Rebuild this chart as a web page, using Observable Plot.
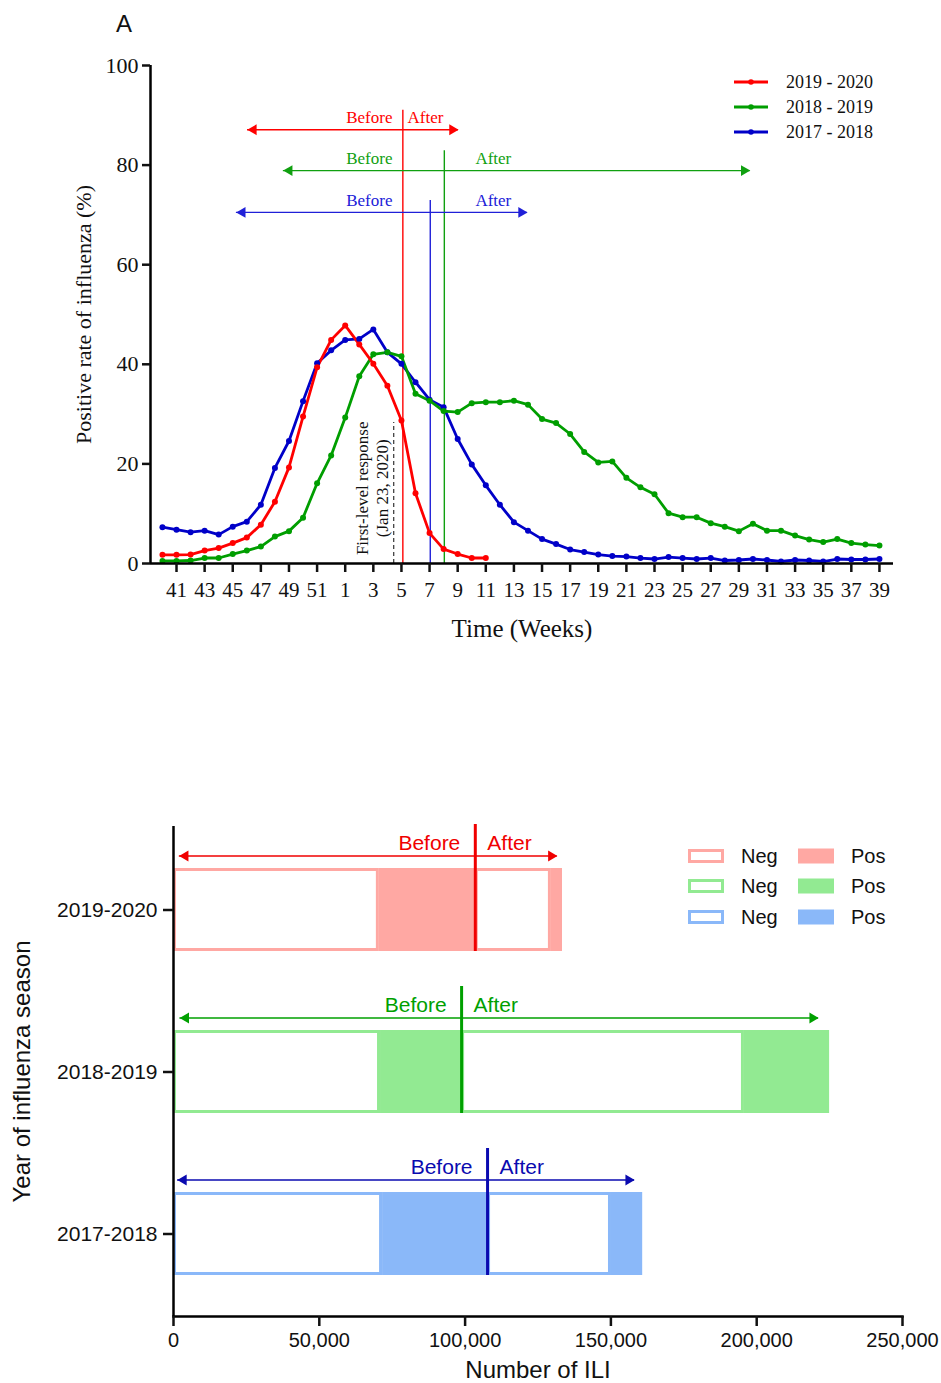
<!DOCTYPE html>
<html><head><meta charset="utf-8">
<script src="https://cdn.jsdelivr.net/npm/d3@7"></script>
<script src="https://cdn.jsdelivr.net/npm/@observablehq/plot@0.6"></script>
<style>
body{margin:0;background:#fff;}
#wrap{position:relative;width:941px;height:1383px;overflow:hidden;background:#fff;}
#top{position:absolute;left:0;top:0;}
#bottom{position:absolute;left:0;top:700px;}
.abs{position:absolute;white-space:nowrap;line-height:1;}
</style></head><body><div id="wrap"><div id="top"></div><div id="bottom"></div></div>
<script>
// ---------------- Panel A data ----------------
const weeks = [40,41,42,43,44,45,46,47,48,49,50,51,52,1,2,3,4,5,6,7,8,9,10,11,12,13,14,15,16,17,18,19,20,21,22,23,24,25,26,27,28,29,30,31,32,33,34,35,36,37,38,39];
const seriesNames = ["2019 - 2020","2018 - 2019","2017 - 2018"];
const lineColors = ["#ff0000","#009e00","#0000c8"];
const rate2019_2020 = [1.75,1.75,1.8,2.6,3.1,4.1,5.2,7.8,12.4,19.3,29.5,39.4,44.9,47.8,44.0,40.1,35.7,28.7,14.1,6.1,2.9,1.9,1.1,1.1];
const rate2018_2019 = [0.5,0.5,0.6,1.1,1.1,1.9,2.6,3.4,5.4,6.5,9.2,16.1,21.7,29.3,37.6,42.0,42.4,41.6,34.1,32.7,30.6,30.4,32.2,32.4,32.4,32.7,31.9,29.0,28.2,26.0,22.4,20.3,20.5,17.2,15.3,13.9,10.1,9.3,9.3,8.1,7.4,6.5,8.0,6.6,6.6,5.6,4.8,4.3,4.9,4.1,3.8,3.6];
const rate2017_2018 = [7.3,6.8,6.3,6.6,5.8,7.4,8.4,11.8,19.2,24.6,32.6,40.2,42.8,44.9,45.1,47.0,42.4,40.1,36.4,32.9,31.4,25.0,19.9,15.7,11.8,8.3,6.6,4.9,3.9,2.8,2.3,1.8,1.5,1.4,1.1,0.9,1.3,1.1,0.9,1.1,0.6,0.7,0.9,0.7,0.4,0.7,0.6,0.4,0.9,0.8,0.8,0.9];
// annotation positions (week index units / percent)
const cutPos = [17.1, 20.05, 19.05];
const cutTop = [91, 82.9, 72.9];
const arrowLevel = [87.1, 78.9, 70.5];
const arrowFrom = [6.05, 8.6, 5.26];
const arrowTo = [21.05, 41.8, 25.96];
const beforeEnd = [16.36, 16.36, 16.36];
const afterStart = [17.43, 22.26, 22.26];
const responseWeek = 16.45, responseTop = 28.3, responseLabelY = 15.1;
const yTicksA = [0,20,40,60,80,100];
const xDomainA = [-0.85, 52];

// ---------------- Panel B data ----------------
const seasons = ["2019-2020","2018-2019","2017-2018"];
const negBefore = [70600, 71000, 71700];
const posBefore = [32900, 27800, 36000];
const negAfter  = [26100, 97000, 42500];
const posAfter  = [3800, 29200, 10700];
const bArrowFrom = [2000, 2200, 1400];
const bArrowTo = [131600, 221200, 158100];
const fillColors = ["#ffa8a3","#92ea92","#8ab8f9"];
const markColors = ["#f00000","#00a000","#0a0ab0"];
const xTicksB = [0,50000,100000,150000,200000,250000];

const serif = '"Liberation Serif","Times New Roman",serif';
const sans = '"Liberation Sans",Arial,sans-serif';

// ---------- Panel A ----------
const allRates = [rate2019_2020, rate2018_2019, rate2017_2018];
const rows = [];
allRates.forEach((arr, k) => arr.forEach((v, i) => rows.push({k, season: seriesNames[k], i, week: weeks[i], rate: v})));
const drawOrder = [2,1,0];
const rowsOrdered = drawOrder.flatMap(k => rows.filter(r => r.k === k));
const cuts = seriesNames.map((s, k) => ({k, cut: cutPos[k], top: cutTop[k], level: arrowLevel[k], from: arrowFrom[k], to: arrowTo[k], bx: beforeEnd[k], ax: afterStart[k]}));
const annoColors = ["#ff0000","#10a010","#2020d8"];

const plotA = Plot.plot({
  width: 941, height: 700,
  marginLeft: 150, marginRight: 48, marginTop: 65, marginBottom: 137,
  style: {fontFamily: serif, fontSize: "21px", background: "transparent", overflow: "visible", color: "#111"},
  x: {domain: xDomainA},
  y: {domain: [0, 100]},
  marks: [
    Plot.ruleX(cuts, {x: "cut", y1: 0, y2: "top", stroke: d => annoColors[d.k], strokeWidth: 1.4}),
    Plot.ruleY(cuts, {y: "level", x1: "from", x2: "to", stroke: d => annoColors[d.k], strokeWidth: 1.4}),
    Plot.dot(cuts, {x: "from", y: "level", symbol: "triangle", rotate: -90, r: 4, fill: d => annoColors[d.k], dx: 6}),
    Plot.dot(cuts, {x: "to", y: "level", symbol: "triangle", rotate: 90, r: 4, fill: d => annoColors[d.k], dx: -6}),
    Plot.text(cuts, {x: "bx", y: "level", text: () => "Before", textAnchor: "end", dy: -12, fill: d => annoColors[d.k], fontSize: 17}),
    Plot.text(cuts, {x: "ax", y: "level", text: () => "After", textAnchor: "start", dy: -12, fill: d => annoColors[d.k], fontSize: 17}),
    Plot.ruleX([responseWeek], {y1: 0, y2: responseTop, stroke: "#333", strokeWidth: 1.2, strokeDasharray: "4,3"}),
    Plot.text(["First-level response\n(Jan 23, 2020)"], {x: responseWeek, y: responseLabelY, text: d => d, rotate: -90, dx: -22, lineHeight: 1.2, fontSize: 17, fill: "#111"}),
    Plot.line(rowsOrdered, {x: "i", y: "rate", z: "season", stroke: d => lineColors[d.k], strokeWidth: 2.8}),
    Plot.dot(rowsOrdered, {x: "i", y: "rate", fill: d => lineColors[d.k], r: 3}),
    Plot.ruleY([0], {stroke: "#000", strokeWidth: 2.5}),
    Plot.ruleX([xDomainA[0]], {stroke: "#000", strokeWidth: 2.5}),
    Plot.axisX({ticks: d3.range(1, 52, 2), tickFormat: i => weeks[i], tickSize: 9, tickPadding: 10, fontSize: 21, strokeWidth: 2.5, label: null}),
    Plot.axisY({ticks: yTicksA, tickSize: 8, tickPadding: 4, fontSize: 22, strokeWidth: 2.5, label: null}),
    Plot.text(["Positive rate of influenza (%)"], {frameAnchor: "left", text: d => d, rotate: -90, textAnchor: "middle", lineAnchor: "middle", dx: -67, fontSize: 22}),
    Plot.text(["Time (Weeks)"], {frameAnchor: "bottom", text: d => d, textAnchor: "middle", lineAnchor: "middle", dy: 65, fontSize: 25})
  ]
});
document.getElementById("top").appendChild(plotA);

// ---------- Panel B ----------
const barRows = [];
seasons.forEach((s, k) => {
  barRows.push({k, season: s, type: "Neg", value: negBefore[k]});
  barRows.push({k, season: s, type: "Pos", value: posBefore[k]});
  barRows.push({k, season: s, type: "Neg", value: negAfter[k]});
  barRows.push({k, season: s, type: "Pos", value: posAfter[k]});
});
const bCuts = seasons.map((s, k) => ({k, season: s, cut: negBefore[k] + posBefore[k], from: bArrowFrom[k], to: bArrowTo[k]}));

const plotB = Plot.plot({
  width: 941, height: 683,
  marginLeft: 173, marginRight: 39, marginTop: 126, marginBottom: 67,
  style: {fontFamily: sans, fontSize: "20px", background: "transparent", overflow: "visible", color: "#111"},
  x: {domain: [0, 250000]},
  y: {type: "band", domain: seasons, paddingInner: 0.488, paddingOuter: 0.256},
  marks: [
    Plot.barX(barRows, {x: "value", y: "season", fill: d => d.type === "Pos" ? fillColors[d.k] : "none"}),
    Plot.barX(barRows, {x: "value", y: "season", fill: d => d.type === "Neg" ? "white" : "none", stroke: d => d.type === "Neg" ? fillColors[d.k] : "none", strokeWidth: 3, inset: 1.5}),
    Plot.tickX(bCuts, {x: "cut", y: "season", stroke: d => markColors[d.k], strokeWidth: 3, insetTop: -44}),
    Plot.ruleY(bCuts, {y: "season", x1: "from", x2: "to", dy: -54, stroke: d => markColors[d.k], strokeWidth: 1.6}),
    Plot.dot(bCuts, {x: "from", y: "season", dy: -54, dx: 6, symbol: "triangle", rotate: -90, r: 4, fill: d => markColors[d.k]}),
    Plot.dot(bCuts, {x: "to", y: "season", dy: -54, dx: -6, symbol: "triangle", rotate: 90, r: 4, fill: d => markColors[d.k]}),
    Plot.text(bCuts, {x: "cut", y: "season", text: () => "Before", textAnchor: "end", dx: -15, dy: -67, fill: d => markColors[d.k], fontSize: 21}),
    Plot.text(bCuts, {x: "cut", y: "season", text: () => "After", textAnchor: "start", dx: 12, dy: -67, fill: d => markColors[d.k], fontSize: 21}),
    Plot.ruleX([0], {stroke: "#000", strokeWidth: 2.5}),
    Plot.frame({anchor: "bottom", stroke: "#000", strokeWidth: 2.5}),
    Plot.axisX({ticks: xTicksB, tickFormat: d3.format(","), tickSize: 10, tickPadding: 6, fontSize: 20, strokeWidth: 2.5, label: null}),
    Plot.axisY({tickSize: 10, tickPadding: 6, fontSize: 21, strokeWidth: 2.5, label: null}),
    Plot.text(["Year of influenza season"], {frameAnchor: "left", text: d => d, rotate: -90, textAnchor: "middle", lineAnchor: "middle", dx: -151, fontSize: 24}),
    Plot.text(["Number of ILI"], {frameAnchor: "bottom", text: d => d, textAnchor: "middle", lineAnchor: "middle", dy: 54, fontSize: 24})
  ]
});
document.getElementById("bottom").appendChild(plotB);

// ---------- HTML extras: title and legends ----------
const wrap = document.getElementById("wrap");
function add(html, css) { const d = document.createElement("div"); d.className = "abs"; d.innerHTML = html; Object.assign(d.style, css); wrap.appendChild(d); return d; }
add("A", {left: "116px", top: "12px", fontFamily: sans, fontSize: "24px", lineHeight: "24px", color: "#111"});

const legYA = [82, 107, 132];
seriesNames.forEach((name, k) => {
  add(`<svg width="36" height="10" style="display:block"><line x1="1" x2="35" y1="5" y2="5" stroke="${lineColors[k]}" stroke-width="3"/><circle cx="18" cy="5" r="2.8" fill="${lineColors[k]}"/></svg>`, {left: "733px", top: (legYA[k] - 5) + "px"});
  add(name, {left: "786px", top: (legYA[k] - 9) + "px", fontFamily: serif, fontSize: "18px", lineHeight: "18px", color: "#111"});
});

const legYB = [856, 886, 917];
seasons.forEach((s, k) => {
  add(`<svg width="38" height="16" style="display:block"><rect x="2.5" y="2.5" width="33" height="11" fill="white" stroke="${fillColors[k]}" stroke-width="3"/></svg>`, {left: "687px", top: (legYB[k] - 8) + "px"});
  add("Neg", {left: "741px", top: (legYB[k] - 10) + "px", fontFamily: sans, fontSize: "20px", lineHeight: "20px", color: "#111"});
  add(`<svg width="38" height="16" style="display:block"><rect x="1" y="0.5" width="36" height="15" fill="${fillColors[k]}"/></svg>`, {left: "797px", top: (legYB[k] - 8) + "px"});
  add("Pos", {left: "851px", top: (legYB[k] - 10) + "px", fontFamily: sans, fontSize: "20px", lineHeight: "20px", color: "#111"});
});
</script>
</body></html>
